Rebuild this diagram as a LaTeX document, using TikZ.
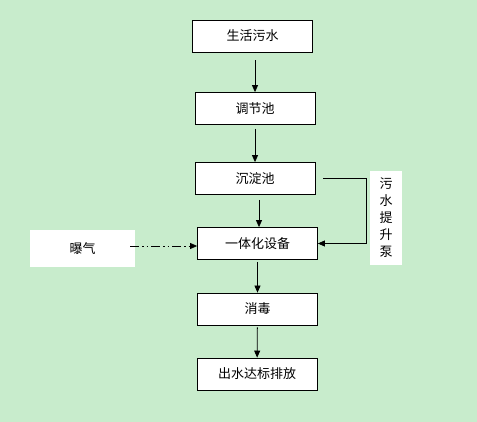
\documentclass[tikz,border=0pt]{standalone}
\usepackage{fontspec}
\setmainfont{Noto Sans CJK SC}
\usetikzlibrary{arrows.meta,positioning}
\definecolor{bggreen}{RGB}{200,236,204}

\begin{document}
\begin{tikzpicture}[x=1pt, y=-1pt, font=\fontsize{13}{17}\selectfont,
    stepbox/.style={draw=black, fill=white, line width=0.8pt, minimum width=120pt, minimum height=32pt, inner sep=0pt},
    sidebox/.style={fill=white, inner sep=0pt},
    flow/.style={-{Triangle[width=6pt,length=7pt]}, line width=0.8pt, draw=black}]
    % background and page size
    \fill[bggreen] (0,0) rectangle (477,422);
    \useasboundingbox (0,0) rectangle (477,422);
    % main process chain
    \node[stepbox] (sewage) at (252.5,36) {生活污水};
    \node[stepbox] (tank)   at (255,108.5) {调节池};
    \node[stepbox] (settle) at (255,178.5) {沉淀池};
    \node[stepbox] (unit)   at (257.5,243.5) {一体化设备};
    \node[stepbox] (disinf) at (257.5,309) {消毒};
    \node[stepbox] (outlet) at (257,374) {出水达标排放};
    % side elements
    \node[sidebox, minimum width=105pt, minimum height=37pt] (aer) at (82.5,248.5) {曝气};
    \node[sidebox, minimum width=32pt, minimum height=94pt, align=center] (pump) at (386,218) {污\\水\\提\\升\\泵};
    % arrows
    \draw[flow, shorten <=8pt] (sewage.south -| tank.north) -- (tank.north);
    \draw[flow, shorten <=4pt] (tank) -- (settle);
    \draw[flow, shorten <=5pt] ([xshift=4pt]settle.south) -- ([xshift=1.5pt]unit.north);
    \draw[flow, shorten <=2pt] (unit) -- (disinf);
    \draw[flow, shorten <=2pt] (disinf) -- (outlet);
    \draw[flow, shorten <=8pt] (settle.east) -- (366,178.5) |- (unit.east);
    \draw[flow, dash pattern=on 9pt off 3pt on 1.5pt off 3pt on 1.5pt off 3pt, shorten <=-5pt]
        ([yshift=2.5pt]aer.east) -- ([yshift=-2.5pt]unit.west);
\end{tikzpicture}
\end{document}
